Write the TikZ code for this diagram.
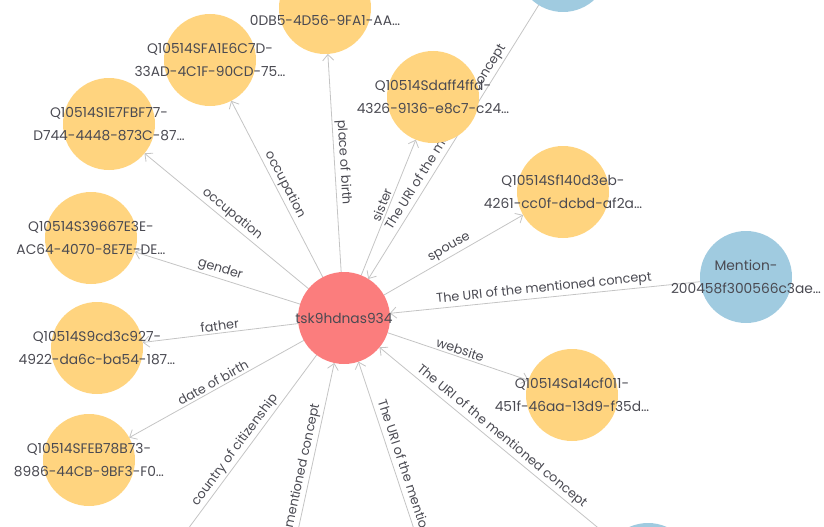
\documentclass[tikz,border=0pt]{standalone}
\usepackage{fontspec}
\setmainfont{Poppins}
\usetikzlibrary{arrows.meta}

\definecolor{entyellow}{HTML}{FFD47F}
\definecolor{entred}{HTML}{FB7D7D}
\definecolor{mentblue}{HTML}{A0CBE0}
\definecolor{edgegray}{HTML}{C4C4C4}
\definecolor{txtgray}{HTML}{4A4A52}

\pgfdeclarelayer{bg}
\pgfsetlayers{bg,main}

\tikzset{
  ent/.style={circle, minimum size=92pt, inner sep=0pt, outer sep=0pt, fill=entyellow},
  subj/.style={ent, fill=entred},
  ment/.style={ent, fill=mentblue},
  ntext/.style={text=txtgray, align=center, font=\fontsize{13.8}{23.5}\selectfont},
  edge/.style={draw=edgegray, line width=0.8pt, -{Straight Barb[length=6pt,width=11pt]}},
  rel/.style={midway, sloped, above, inner sep=2pt, text=txtgray, font=\fontsize{12.8}{14}\selectfont},
}

\begin{document}
\begin{tikzpicture}[x=1pt, y=-1pt]
    \useasboundingbox (0,0) rectangle (824,527);
    \clip (0,0) rectangle (824,527);

    % the subject in the middle
    \node[subj, label={[ntext]center:tsk9hdnas934}] (tsk) at (344,318) {};

    % wikidata statements
    \node[ent, label={[ntext, yshift=-12pt]center:0DB5-4D56-9FA1-AA…}] (s0db5) at (325,8) {};
    \node[ent, label={[ntext]center:Q10514SFA1E6C7D-\\33AD-4C1F-90CD-75…}] (sfa1) at (210,60) {};
    \node[ent, label={[ntext]center:Q10514S1E7FBF77-\\D744-4448-873C-87…}] (s1e7) at (109,124) {};
    \node[ent, label={[ntext]center:Q10514S39667E3E-\\AC64-4070-8E7E-DE…}] (s396) at (91,238) {};
    \node[ent, label={[ntext]center:Q10514S9cd3c927-\\4922-da6c-ba54-187…}] (s9cd) at (97,348) {};
    \node[ent, label={[ntext]center:Q10514SFEB78B73-\\8986-44CB-9BF3-F0…}] (sfeb) at (89,460) {};
    \node[ent, label={[ntext]center:Q10514Sdaff4ffd-\\4326-9136-e8c7-c24…}] (sdaf) at (433,97) {};
    \node[ent, label={[ntext]center:Q10514Sf140d3eb-\\4261-cc0f-dcbd-af2a…}] (sf14) at (563,192) {};
    \node[ent, label={[ntext]center:Q10514Sa14cf011-\\451f-46aa-13d9-f35d…}] (sa14) at (572,395) {};
    \coordinate (scit) at (168,556);

    % mentions
    \node[ment, label={[ntext]center:Mention-\\200458f300566c3ae…}] (m1) at (746,277) {};
    \node[ment] (m2) at (563,-34) {};
    \node[ment] (m3) at (648,569) {};
    \coordinate (m4) at (270,660);
    \coordinate (m5) at (454,650);

    \begin{pgfonlayer}{bg}
        \draw[edge] (tsk) -- node[rel] {place of birth} (s0db5);
        \draw[edge] (tsk) -- node[rel] {occupation} (sfa1);
        \draw[edge] (tsk) -- node[rel] {occupation} (s1e7);
        \draw[edge] (tsk) -- node[rel] {gender} (s396);
        \draw[edge] (tsk) -- node[rel] {father} (s9cd);
        \draw[edge] (tsk) -- node[rel] {date of birth} (sfeb);
        \draw[edge] (tsk) -- node[rel] {country of citizenship} (scit);
        \draw[edge] (tsk) -- node[rel] {sister} (sdaf);
        \draw[edge] (tsk) -- node[rel] {spouse} (sf14);
        \draw[edge] (tsk) -- node[rel] {website} (sa14);

        \draw[edge] (m1) -- node[rel] {The URI of the mentioned concept} (tsk);
        \draw[edge] (m2) -- node[rel] {The URI of the mentioned concept} (tsk);
        \draw[edge] (m3) -- node[rel] {The URI of the mentioned concept} (tsk);
        \draw[edge] (m4) -- node[rel] {The URI of the mentioned concept} (tsk);
        \draw[edge] (m5) -- node[rel] {The URI of the mentioned concept} (tsk);
    \end{pgfonlayer}
\end{tikzpicture}
\end{document}
